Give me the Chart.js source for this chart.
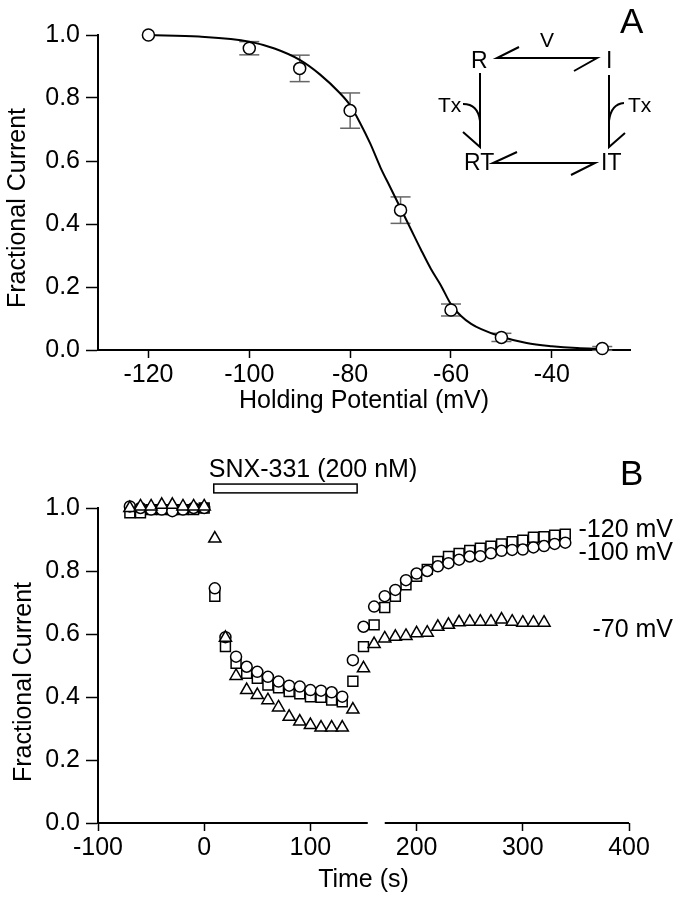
<!DOCTYPE html>
<html>
<head>
<meta charset="utf-8">
<script src="https://cdn.jsdelivr.net/npm/chart.js@4/dist/chart.umd.min.js"></script>
<style>
body { margin: 0; background: #fff; }
#wrap { position: relative; width: 682px; height: 899px; }
canvas { position: absolute; left: 0; }
</style>
</head>
<body>
<div id="wrap">
	<canvas id="chart-a" width="682" height="420" style="top:0px"></canvas>
	<canvas id="chart-b" width="682" height="479" style="top:420px"></canvas>
</div>
<script>
/* panel A data */
var potentials = [-120, -100, -90, -80, -70, -60, -50, -30];
var fractionA = [1.0, 0.958, 0.894, 0.76, 0.444, 0.127, 0.04, 0.005];
var errorA = [0, 0.021, 0.042, 0.056, 0.042, 0.019, 0.013, 0.006];
var fitPotentials = [-120, -110, -100, -95, -90, -86, -82, -80, -78, -76, -74, -72, -70, -68, -66, -64, -62, -60, -58, -56, -54, -50, -45, -40, -35, -30];
var fitValues = [1.0, 0.995, 0.979, 0.957, 0.921, 0.875, 0.815, 0.777, 0.72, 0.655, 0.58, 0.515, 0.45, 0.385, 0.32, 0.258, 0.205, 0.145, 0.108, 0.083, 0.066, 0.042, 0.022, 0.012, 0.006, 0.003];
var ticksAx = [-120, -100, -80, -60, -40];
var ticksY = [0, 0.2, 0.4, 0.6, 0.8, 1.0];

/* panel B data */
var times = [-70, -60, -50, -40, -30, -20, -10, 0, 10, 20, 30, 40, 50, 60, 70, 80, 90, 100, 110, 120, 130, 140, 150, 160, 170, 180, 190, 200, 210, 220, 230, 240, 250, 260, 270, 280, 290, 300, 310, 320, 330, 340];
var current120 = [0.985, 0.985, 0.995, 0.995, 0.995, 0.995, 0.995, 1.0, 0.72, 0.56, 0.507, 0.475, 0.459, 0.438, 0.429, 0.417, 0.41, 0.401, 0.399, 0.39, 0.385, 0.45, 0.56, 0.629, 0.684, 0.72, 0.756, 0.783, 0.805, 0.83, 0.846, 0.856, 0.865, 0.872, 0.879, 0.886, 0.893, 0.898, 0.907, 0.909, 0.914, 0.917];
var current100 = [1.005, 1.0, 0.995, 0.995, 0.99, 0.995, 1.0, 1.0, 0.745, 0.59, 0.528, 0.496, 0.48, 0.464, 0.449, 0.436, 0.433, 0.422, 0.42, 0.415, 0.401, 0.517, 0.623, 0.687, 0.72, 0.74, 0.771, 0.792, 0.8, 0.815, 0.825, 0.836, 0.846, 0.847, 0.856, 0.864, 0.867, 0.868, 0.875, 0.879, 0.886, 0.89];
var current70 = [1.0, 1.005, 1.005, 1.01, 1.01, 1.005, 1.005, 1.005, 0.903, 0.588, 0.467, 0.422, 0.406, 0.39, 0.367, 0.337, 0.322, 0.311, 0.303, 0.303, 0.303, 0.36, 0.491, 0.568, 0.586, 0.591, 0.594, 0.602, 0.604, 0.623, 0.629, 0.637, 0.639, 0.639, 0.639, 0.646, 0.639, 0.636, 0.636, 0.636];
var ticksBx = [-100, 0, 100, 200, 300, 400];
var axisBreak = [154, 170];
var toxinStart = 9;
var toxinStop = 144;

var FONT = '"Liberation Sans", Arial, Helvetica, sans-serif';

Chart.defaults.font.family = FONT;
Chart.defaults.font.size = 25;
Chart.defaults.color = '#000';

var toPoints = function(xs, ys) {
	var points = [];
	for (var i = 0; i < ys.length; i++) {
		points.push({ x: xs[i], y: ys[i] });
	}
	return points;
};

var setTicks = function(values) {
	return function(scale) {
		scale.ticks = values.map(function(v) { return { value: v }; });
	};
};

var yScale = function() {
	return {
		type: 'linear', min: 0, max: 1,
		afterBuildTicks: setTicks(ticksY),
		afterFit: function(scale) { scale.width = 98; },
		ticks: { padding: 6, callback: function(v) { return v.toFixed(1); } },
		grid: { drawOnChartArea: false, drawTicks: true, tickLength: 12, tickColor: '#000', tickWidth: 1.5 },
		border: { display: true, color: '#000', width: 2 }
	};
};

var markers = function(data, style, radius, order) {
	return { data: data, showLine: false, pointStyle: style, pointRadius: radius, borderWidth: 1.5, borderColor: '#000', backgroundColor: '#fff', clip: false, order: order };
};

var line = function(ctx, points) {
	ctx.beginPath();
	ctx.moveTo(points[0], points[1]);
	for (var i = 2; i < points.length; i += 2) {
		ctx.lineTo(points[i], points[i + 1]);
	}
	ctx.stroke();
};

/* panel A */

var errorBars = {
	id: 'errorBars',
	beforeDatasetsDraw: function(chart) {
		var ctx = chart.ctx;
		var x = chart.scales.x;
		var y = chart.scales.y;
		ctx.save();
		ctx.strokeStyle = '#666';
		ctx.lineWidth = 1.5;
		for (var i = 0; i < potentials.length; i++) {
			if (!errorA[i]) {
				continue;
			}
			var px = x.getPixelForValue(potentials[i]);
			var top = y.getPixelForValue(fractionA[i] + errorA[i]);
			var bottom = y.getPixelForValue(fractionA[i] - errorA[i]);
			line(ctx, [px, top, px, bottom]);
			line(ctx, [px - 10, top, px + 10, top]);
			line(ctx, [px - 10, bottom, px + 10, bottom]);
		}
		ctx.restore();
	}
};

var decorA = {
	id: 'decorA',
	afterDraw: function(chart) {
		var ctx = chart.ctx;
		var area = chart.chartArea;
		ctx.save();
		ctx.fillStyle = '#000';
		ctx.strokeStyle = '#000';
		// axis titles
		ctx.font = '25px ' + FONT;
		ctx.textAlign = 'center';
		ctx.textBaseline = 'alphabetic';
		ctx.fillText('Holding Potential (mV)', (area.left + area.right) / 2, 408);
		ctx.save();
		ctx.translate(25, 208);
		ctx.rotate(-Math.PI / 2);
		ctx.fillText('Fractional Current', 0, 0);
		ctx.restore();
		// panel letter
		ctx.font = '35px ' + FONT;
		ctx.textAlign = 'left';
		ctx.fillText('A', 620, 33);
		// reaction scheme
		ctx.font = '23px ' + FONT;
		ctx.fillText('R', 471, 68);
		ctx.fillText('I', 606, 68);
		ctx.fillText('RT', 464, 170);
		ctx.fillText('IT', 601, 170);
		ctx.font = '21px ' + FONT;
		ctx.fillText('V', 540, 47);
		ctx.fillText('Tx', 438, 112);
		ctx.fillText('Tx', 628, 112);
		ctx.lineWidth = 2;
		line(ctx, [519, 47, 497, 58, 597, 58, 574, 71]);
		line(ctx, [517, 152, 493, 163, 595, 163, 571, 175]);
		line(ctx, [480, 73, 480, 147, 463, 132]);
		line(ctx, [609, 75, 609, 147, 625, 133]);
		ctx.beginPath();
		ctx.moveTo(463, 104);
		ctx.quadraticCurveTo(478, 104, 480, 121);
		ctx.moveTo(624, 103);
		ctx.quadraticCurveTo(611, 104, 609, 121);
		ctx.stroke();
		ctx.restore();
	}
};

var chartA = new Chart(document.getElementById('chart-a'), {
	type: 'scatter',
	data: {
		datasets: [
			{ data: toPoints(fitPotentials, fitValues), showLine: true, borderColor: '#000', borderWidth: 2, pointRadius: 0, cubicInterpolationMode: 'monotone', fill: false, clip: false, order: 2 },
			markers(toPoints(potentials, fractionA), 'circle', 6, 1)
		]
	},
	options: {
		responsive: false,
		devicePixelRatio: 1,
		animation: false,
		events: [],
		layout: { padding: { top: 35, right: 52, left: 0, bottom: 0 } },
		plugins: { legend: { display: false }, tooltip: { enabled: false } },
		scales: {
			x: {
				type: 'linear', min: -130, max: -24.5,
				afterBuildTicks: setTicks(ticksAx),
				afterFit: function(scale) { scale.height = 70; },
				ticks: { padding: 2, autoSkip: false, maxRotation: 0 },
				grid: { drawOnChartArea: false, drawTicks: true, tickLength: 8, tickColor: '#000', tickWidth: 1.5 },
				border: { display: true, color: '#000', width: 2 }
			},
			y: yScale()
		}
	},
	plugins: [errorBars, decorA]
});

/* panel B */

var decorB = {
	id: 'decorB',
	afterDraw: function(chart) {
		var ctx = chart.ctx;
		var area = chart.chartArea;
		var x = chart.scales.x;
		var y = chart.scales.y;
		ctx.save();
		ctx.fillStyle = '#000';
		ctx.strokeStyle = '#000';
		// broken time axis
		ctx.lineWidth = 2;
		var base = y.getPixelForValue(0);
		line(ctx, [x.getPixelForValue(x.min) - 1, base, x.getPixelForValue(axisBreak[0]), base]);
		line(ctx, [x.getPixelForValue(axisBreak[1]), base, x.getPixelForValue(x.max), base]);
		// toxin bar
		ctx.lineWidth = 1.5;
		var left = x.getPixelForValue(toxinStart);
		var right = x.getPixelForValue(toxinStop);
		var top = y.getPixelForValue(1.076);
		var bottom = y.getPixelForValue(1.048);
		ctx.strokeRect(left, top, right - left, bottom - top);
		// titles and labels
		ctx.font = '25px ' + FONT;
		ctx.textAlign = 'center';
		ctx.textBaseline = 'alphabetic';
		ctx.fillText('SNX-331 (200 nM)', 313, 57);
		ctx.fillText('Time (s)', (area.left + area.right) / 2, 467);
		ctx.save();
		ctx.translate(31, 262);
		ctx.rotate(-Math.PI / 2);
		ctx.fillText('Fractional Current', 0, 0);
		ctx.restore();
		ctx.textAlign = 'right';
		ctx.fillText('-120 mV', 673, 117);
		ctx.fillText('-100 mV', 673, 140);
		ctx.fillText('-70 mV', 673, 217);
		ctx.font = '35px ' + FONT;
		ctx.textAlign = 'left';
		ctx.fillText('B', 620, 65);
		ctx.restore();
	}
};

var chartB = new Chart(document.getElementById('chart-b'), {
	type: 'scatter',
	data: {
		datasets: [
			markers(toPoints(times, current120), 'rect', 7, 3),
			markers(toPoints(times, current100), 'circle', 5.5, 2),
			markers(toPoints(times, current70), 'triangle', 7, 1)
		]
	},
	options: {
		responsive: false,
		devicePixelRatio: 1,
		animation: false,
		events: [],
		layout: { padding: { top: 88, right: 53, left: 0, bottom: 0 } },
		plugins: { legend: { display: false }, tooltip: { enabled: false } },
		scales: {
			x: {
				type: 'linear', min: -100, max: 400,
				afterBuildTicks: setTicks(ticksBx),
				afterFit: function(scale) { scale.height = 76; },
				ticks: { padding: 2, autoSkip: false, maxRotation: 0 },
				grid: { drawOnChartArea: false, drawTicks: true, tickLength: 8, tickColor: '#000', tickWidth: 1.5 },
				border: { display: false }
			},
			y: yScale()
		}
	},
	plugins: [decorB]
});
</script>
</body>
</html>
